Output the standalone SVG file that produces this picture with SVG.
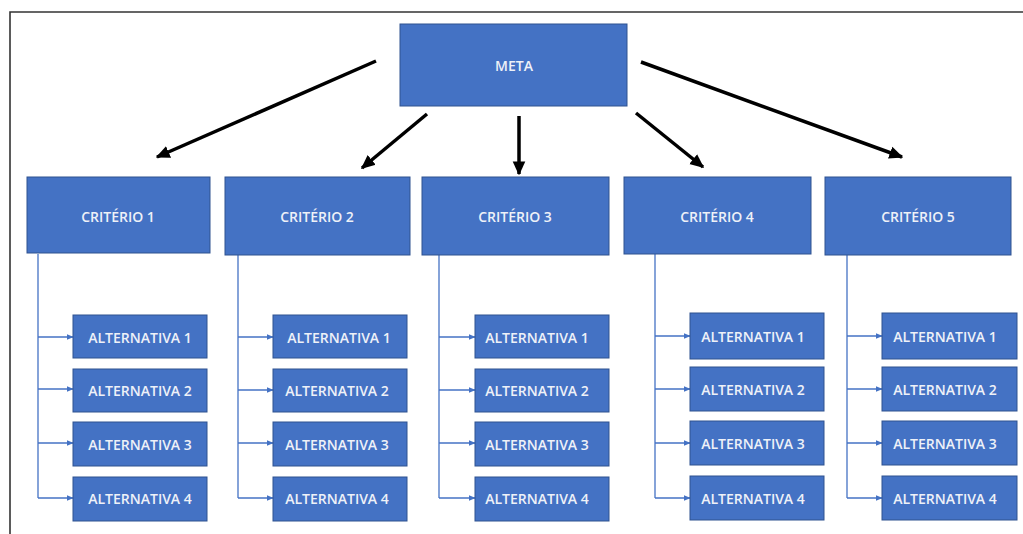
<svg xmlns="http://www.w3.org/2000/svg" width="1023" height="534" viewBox="0 0 1023 534">
<defs>
<marker id="big" viewBox="0 0 10 10" refX="9" refY="5" markerWidth="4" markerHeight="4" markerUnits="strokeWidth" orient="auto">
<path d="M0,0.5 L10,5 L0,9.5 z" fill="#000"/>
</marker>
<marker id="small" viewBox="0 0 10 10" refX="9" refY="5" markerWidth="7" markerHeight="7" markerUnits="userSpaceOnUse" orient="auto">
<path d="M0,1 L10,5 L0,9 z" fill="#4472C4"/>
</marker>
<style>
.box{fill:#4472C4;stroke:#2F528F;stroke-width:1}
.t{font-family:"Open Sans","Liberation Sans",sans-serif;font-size:14px;font-weight:600;fill:#EEF1F8;text-anchor:middle;dominant-baseline:central}
.big{stroke:#000;stroke-width:3.5;fill:none;marker-end:url(#big)}
.sm{stroke:#4472C4;stroke-width:1.3;fill:none}
.sa{stroke:#4472C4;stroke-width:1.3;fill:none;marker-end:url(#small)}
</style>
</defs>
<rect width="1023" height="534" fill="#fff"/>
<path d="M10,534 L10,12 L1023,12" fill="none" stroke="#333" stroke-width="1.6"/>
<g id="connectors">
<line class="big" x1="376" y1="61" x2="157" y2="157"/>
<line class="big" x1="427" y1="114" x2="362" y2="168"/>
<line class="big" x1="519" y1="116" x2="519" y2="174"/>
<line class="big" x1="636" y1="113" x2="703" y2="167"/>
<line class="big" x1="641" y1="62" x2="902" y2="157"/>
<path class="sm" d="M38,254 V498"/>
<path class="sa" d="M38,337 H73"/><path class="sa" d="M38,389 H73"/><path class="sa" d="M38,443 H73"/><path class="sa" d="M38,498 H73"/>
<path class="sm" d="M238,255 V498"/>
<path class="sa" d="M238,337 H273"/><path class="sa" d="M238,390 H273"/><path class="sa" d="M238,443 H273"/><path class="sa" d="M238,498 H273"/>
<path class="sm" d="M439,255 V498"/>
<path class="sa" d="M439,337 H475"/><path class="sa" d="M439,390 H475"/><path class="sa" d="M439,443 H475"/><path class="sa" d="M439,498 H475"/>
<path class="sm" d="M655,254 V498"/>
<path class="sa" d="M655,336 H690"/><path class="sa" d="M655,389 H690"/><path class="sa" d="M655,443 H690"/><path class="sa" d="M655,498 H690"/>
<path class="sm" d="M847,255 V498"/>
<path class="sa" d="M847,336 H882"/><path class="sa" d="M847,389 H882"/><path class="sa" d="M847,443 H882"/><path class="sa" d="M847,498 H882"/>
</g>
<g id="meta"><rect class="box" x="400" y="24" width="227" height="82"/><text class="t" x="514" y="65">META</text></g>
<g id="c1"><rect class="box" x="27" y="177" width="183" height="76"/><text class="t" x="118" y="216">CRITÉRIO 1</text></g>
<g id="c2"><rect class="box" x="225" y="177" width="185" height="78"/><text class="t" x="317" y="216">CRITÉRIO 2</text></g>
<g id="c3"><rect class="box" x="422" y="177" width="187" height="78"/><text class="t" x="515" y="216">CRITÉRIO 3</text></g>
<g id="c4"><rect class="box" x="624" y="177" width="187" height="77"/><text class="t" x="717" y="216">CRITÉRIO 4</text></g>
<g id="c5"><rect class="box" x="825" y="177" width="186" height="78"/><text class="t" x="918" y="216">CRITÉRIO 5</text></g>
<g id="a1-1"><rect class="box" x="73" y="315" width="134" height="43"/><text class="t" x="140" y="337">ALTERNATIVA 1</text></g>
<g id="a1-2"><rect class="box" x="73" y="369" width="134" height="43"/><text class="t" x="140" y="390">ALTERNATIVA 2</text></g>
<g id="a1-3"><rect class="box" x="73" y="422" width="134" height="44"/><text class="t" x="140" y="444">ALTERNATIVA 3</text></g>
<g id="a1-4"><rect class="box" x="73" y="477" width="134" height="44"/><text class="t" x="140" y="498">ALTERNATIVA 4</text></g>
<g id="a2-1"><rect class="box" x="273" y="315" width="134" height="43"/><text class="t" x="339" y="337">ALTERNATIVA 1</text></g>
<g id="a2-2"><rect class="box" x="273" y="369" width="134" height="43"/><text class="t" x="337" y="390">ALTERNATIVA 2</text></g>
<g id="a2-3"><rect class="box" x="273" y="422" width="134" height="44"/><text class="t" x="337" y="444">ALTERNATIVA 3</text></g>
<g id="a2-4"><rect class="box" x="273" y="477" width="134" height="44"/><text class="t" x="337" y="498">ALTERNATIVA 4</text></g>
<g id="a3-1"><rect class="box" x="475" y="315" width="134" height="43"/><text class="t" x="537" y="337">ALTERNATIVA 1</text></g>
<g id="a3-2"><rect class="box" x="475" y="369" width="134" height="43"/><text class="t" x="537" y="390">ALTERNATIVA 2</text></g>
<g id="a3-3"><rect class="box" x="475" y="422" width="134" height="44"/><text class="t" x="537" y="444">ALTERNATIVA 3</text></g>
<g id="a3-4"><rect class="box" x="475" y="477" width="134" height="44"/><text class="t" x="537" y="498">ALTERNATIVA 4</text></g>
<g id="a4-1"><rect class="box" x="690" y="313" width="134" height="46"/><text class="t" x="753" y="336">ALTERNATIVA 1</text></g>
<g id="a4-2"><rect class="box" x="690" y="367" width="134" height="44"/><text class="t" x="753" y="389">ALTERNATIVA 2</text></g>
<g id="a4-3"><rect class="box" x="690" y="421" width="134" height="44"/><text class="t" x="753" y="443">ALTERNATIVA 3</text></g>
<g id="a4-4"><rect class="box" x="690" y="476" width="134" height="44"/><text class="t" x="753" y="498">ALTERNATIVA 4</text></g>
<g id="a5-1"><rect class="box" x="882" y="313" width="135" height="46"/><text class="t" x="945" y="336">ALTERNATIVA 1</text></g>
<g id="a5-2"><rect class="box" x="882" y="367" width="135" height="44"/><text class="t" x="945" y="389">ALTERNATIVA 2</text></g>
<g id="a5-3"><rect class="box" x="882" y="421" width="135" height="44"/><text class="t" x="945" y="443">ALTERNATIVA 3</text></g>
<g id="a5-4"><rect class="box" x="882" y="476" width="135" height="44"/><text class="t" x="945" y="498">ALTERNATIVA 4</text></g>
</svg>
